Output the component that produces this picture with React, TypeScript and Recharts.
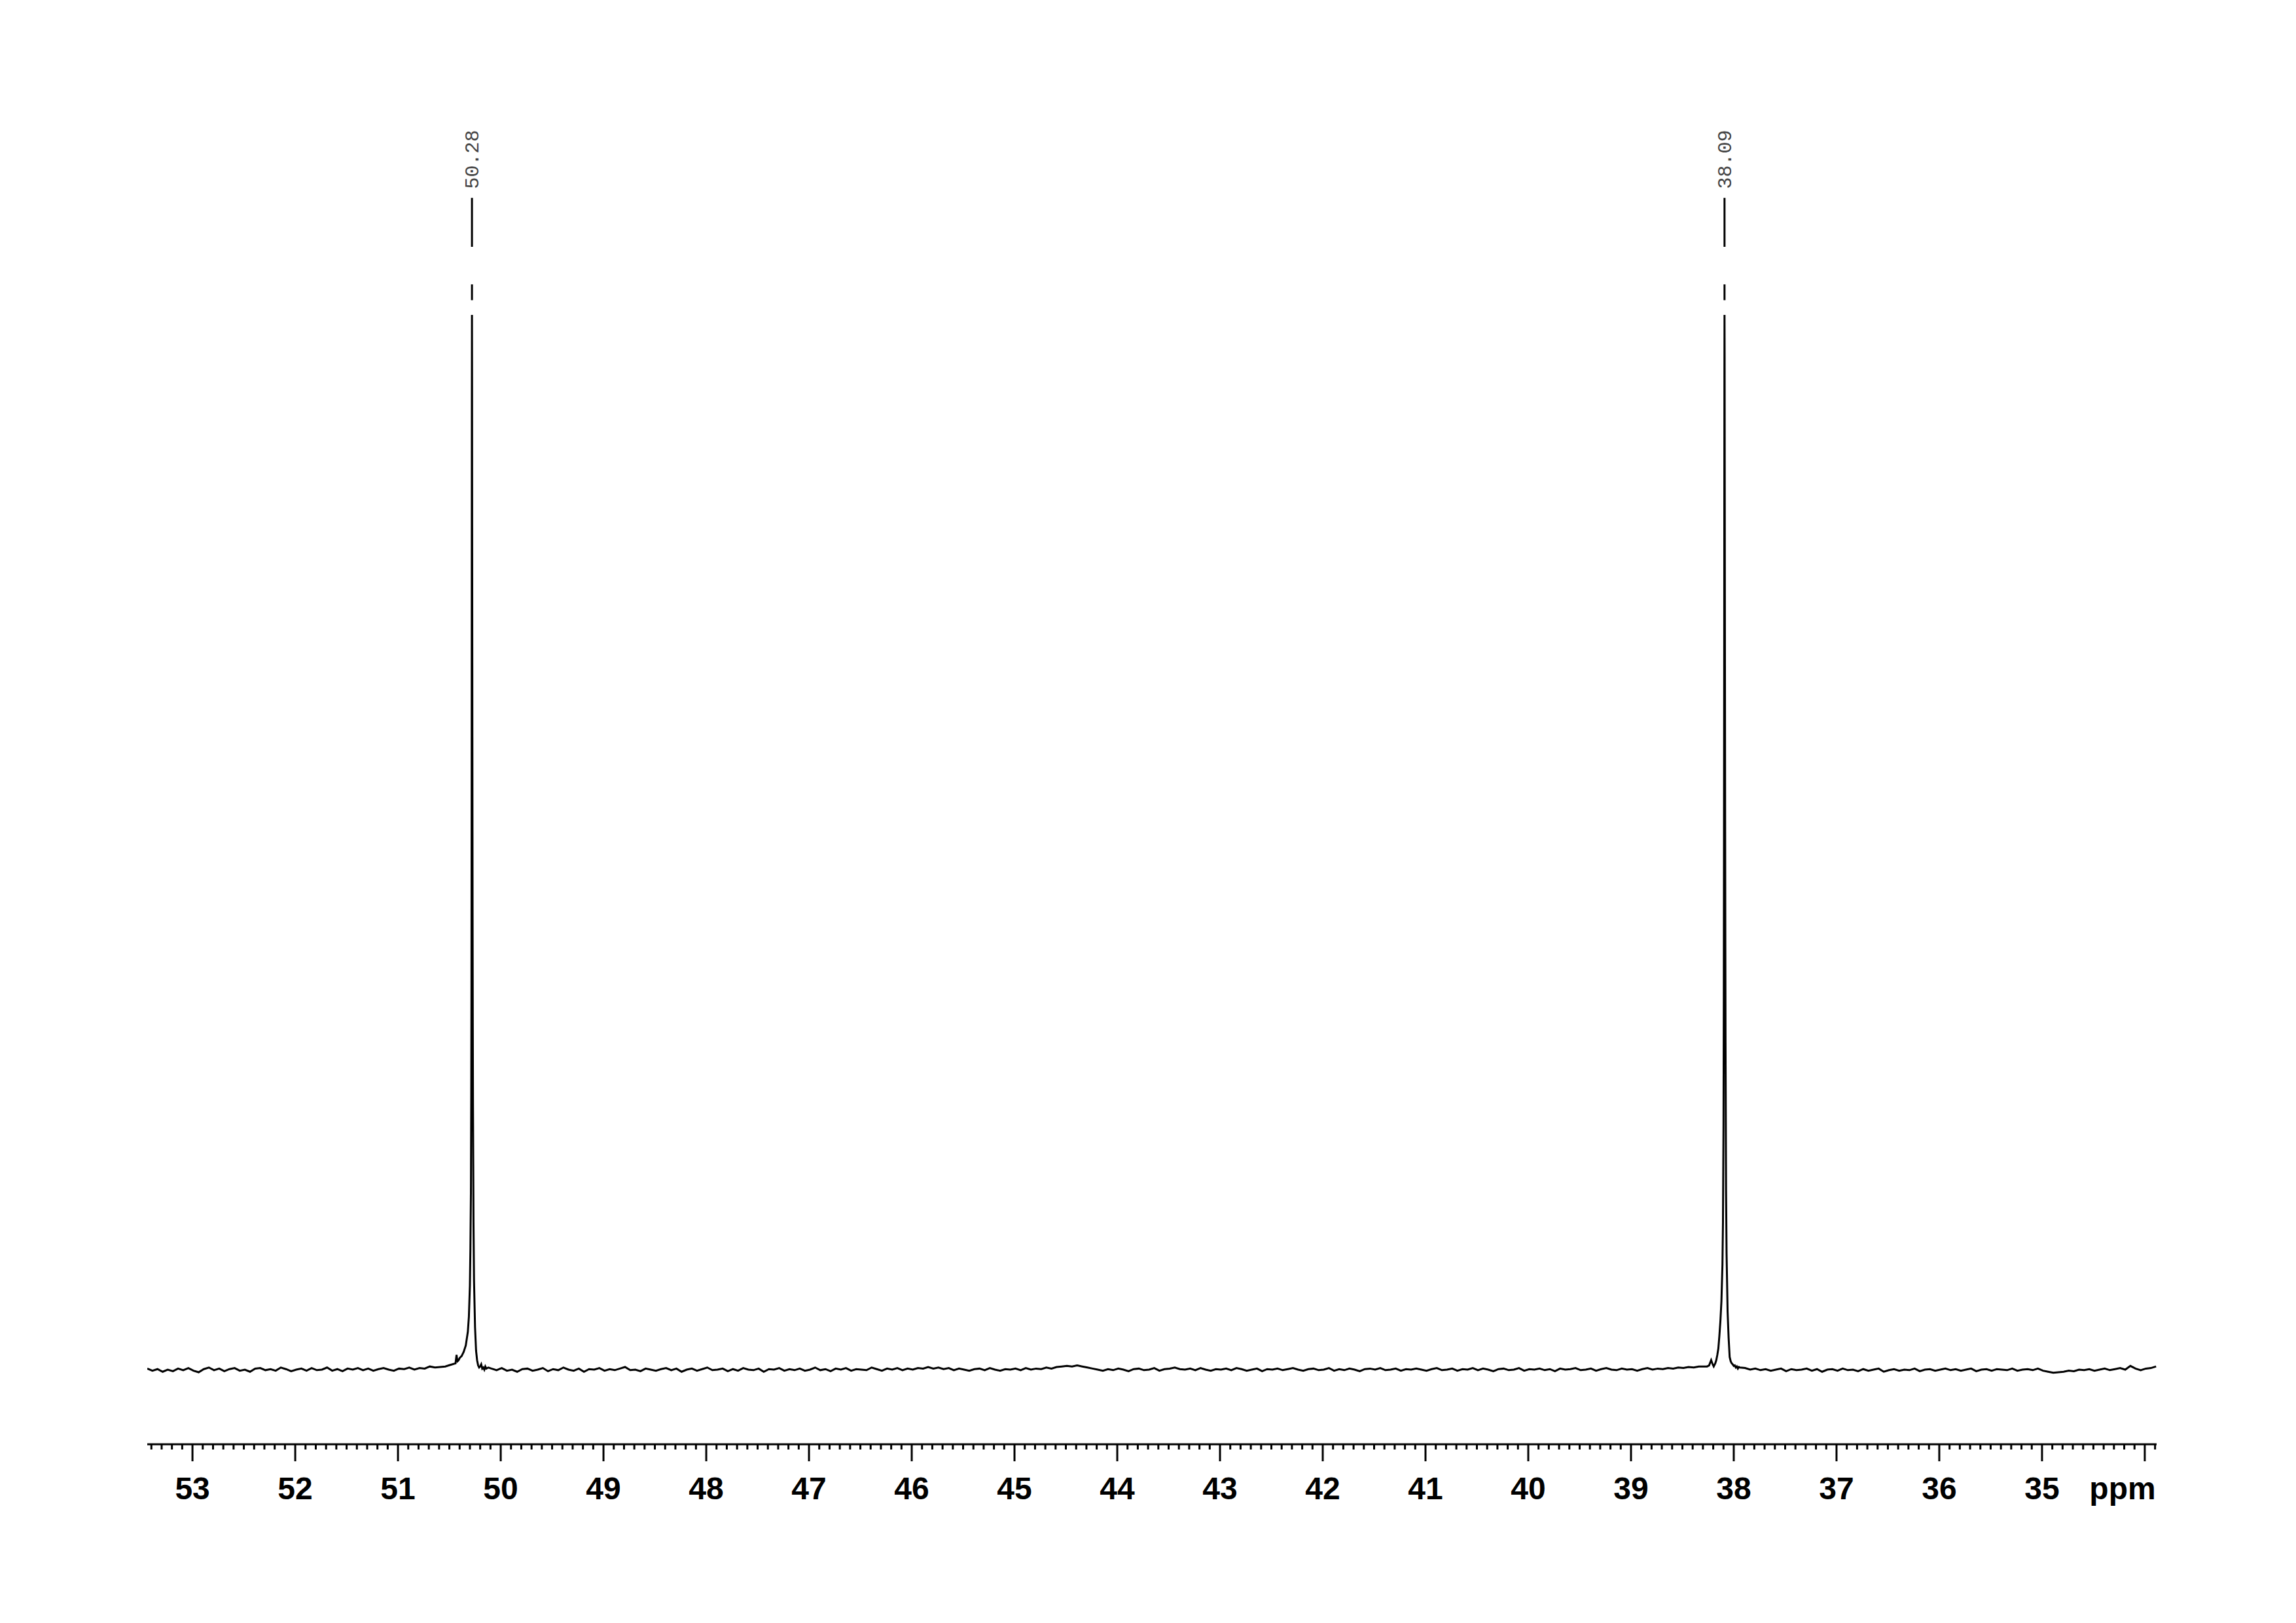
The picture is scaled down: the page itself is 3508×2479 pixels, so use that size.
import { LineChart, Line, XAxis, YAxis, ReferenceLine, ReferenceDot } from "recharts";

// baseline samples, 0.05 ppm apart (peak height = 100)
const baseStep = 0.05;
const leftStart = 53.44;
const baseLeft = [
  0.1, -0.1, 0.05, -0.2, 0.0, -0.15, 0.1, -0.05, 0.15, -0.1, -0.25, 0.05, 0.2, -0.05, 0.1, -0.15, 0.05, 0.15, -0.1, 0.0,
  -0.2, 0.1, 0.15, -0.05, 0.05, -0.1, 0.2, 0.05, -0.15, 0.0, 0.1, -0.1, 0.15, -0.05, 0.0, 0.2, -0.1, 0.05, -0.15, 0.1,
  0.0, 0.15, -0.05, 0.1, -0.1, 0.05, 0.15, 0.0, -0.1, 0.1, 0.05, 0.2, 0.0, 0.15, 0.1, 0.3, 0.2, 0.25, 0.3, 0.45,
];
const midStart = 50.09;
const baseMid = [
  0.1, -0.05, 0.15, -0.1, 0.0, -0.2, 0.05, 0.1, -0.1, 0.0, 0.15, -0.15, 0.05, -0.05, 0.2, 0.0, -0.1, 0.1, -0.2, 0.05,
  0.0, 0.15, -0.1, 0.05, -0.05, 0.1, 0.25, -0.05, 0.0, -0.15, 0.1, 0.0, -0.1, 0.05, 0.15, -0.05, 0.1, -0.2, 0.0, 0.1,
  -0.1, 0.05, 0.2, -0.05, 0.0, 0.1, -0.15, 0.05, -0.1, 0.15, 0.0, -0.05, 0.1, -0.2, 0.05, 0.0, 0.15, -0.1, 0.05, -0.05,
  0.1, -0.1, 0.0, 0.2, -0.05, 0.05, -0.15, 0.1, 0.0, 0.15, -0.1, 0.05, 0.0, -0.05, 0.2, 0.05, -0.1, 0.1, 0.0, 0.15,
  -0.05, 0.1, 0.0, 0.15, 0.1, 0.25, 0.1, 0.2, 0.05, 0.15, -0.05, 0.1, 0.0, -0.1, 0.05, 0.1, -0.05, 0.15, 0.0, -0.1,
  0.05, 0.0, 0.1, -0.05, 0.15, 0.0, 0.1, 0.05, 0.2, 0.1, 0.25, 0.3, 0.35, 0.3, 0.4, 0.3, 0.2, 0.1, 0.0, -0.1,
  0.05, -0.05, 0.1, 0.0, -0.15, 0.05, 0.1, -0.05, 0.0, 0.15, -0.1, 0.05, 0.1, 0.2, 0.05, 0.0, 0.1, -0.05, 0.15, 0.0,
  -0.1, 0.05, 0.0, 0.1, -0.05, 0.15, 0.05, -0.1, 0.0, 0.1, -0.15, 0.05, 0.0, 0.1, -0.05, 0.05, 0.15, 0.0, -0.1, 0.05,
  0.1, -0.05, 0.0, 0.15, -0.1, 0.05, -0.05, 0.1, 0.0, -0.15, 0.05, 0.1, 0.0, 0.15, -0.05, 0.0, 0.1, -0.1, 0.05, 0.0,
  0.1, 0.0, -0.1, 0.05, 0.15, -0.05, 0.0, 0.1, -0.1, 0.05, 0.0, 0.15, -0.05, 0.1, 0.0, -0.15, 0.05, 0.1, -0.05, 0.0,
  0.15, -0.1, 0.05, 0.0, 0.1, -0.05, 0.05, -0.15, 0.1, 0.0, 0.05, 0.15, -0.05, 0.0, 0.1, -0.1, 0.05, 0.15, 0.0, -0.05,
  0.1, 0.0, 0.05, -0.1, 0.05, 0.15, 0.0, 0.1, 0.05, 0.15, 0.1, 0.2, 0.15, 0.25, 0.2, 0.3, 0.3,
];
const rightStart = 37.89;
const baseRight = [
  0.15, 0.0, 0.1, -0.05, 0.05, -0.1, 0.0, 0.1, -0.15, 0.05, -0.05, 0.0, 0.1, -0.1, 0.05, -0.2, 0.0, 0.05, -0.1, 0.1,
  -0.05, 0.0, -0.15, 0.05, -0.1, 0.0, 0.1, -0.2, -0.05, 0.05, -0.1, 0.0, -0.05, 0.1, -0.15, 0.0, 0.05, -0.1, 0.0, 0.1,
  -0.05, 0.05, -0.1, 0.0, 0.1, -0.15, 0.0, 0.05, -0.1, 0.05, 0.0, -0.05, 0.1, -0.1, 0.0, 0.05, -0.05, 0.1, -0.1, -0.2,
  -0.3, -0.25, -0.2, -0.1, -0.15, 0.0, -0.05, 0.05, -0.1, 0.0, 0.1, -0.05, 0.05, 0.15, 0.0, 0.35, 0.1, -0.05, 0.1, 0.15,
  0.3,
];

// dense points across the two signals: [ppm, intensity]
const peak50: [number, number][] = [
  [50.44, 0.6], [50.43, 1.4], [50.425, 1.0], [50.42, 0.8], [50.41, 0.9], [50.4, 1.1], [50.38, 1.3],
  [50.36, 1.7], [50.34, 2.3], [50.32, 3.6], [50.31, 5.0], [50.3, 8.0], [50.295, 11.5], [50.29, 17],
  [50.287, 26], [50.285, 36], [50.283, 56], [50.282, 74], [50.281, 92], [50.28, 100], [50.279, 94],
  [50.278, 80], [50.276, 60], [50.274, 44], [50.272, 33], [50.27, 25], [50.265, 14], [50.26, 8.5],
  [50.25, 4.0], [50.24, 1.8], [50.23, 0.9], [50.22, 0.4], [50.21, 0.2], [50.2, 0.3], [50.19, 0.5],
  [50.18, 0.1], [50.17, 0.2], [50.16, 0.0], [50.15, 0.3], [50.14, 0.1], [50.12, 0.2],
];
const peak38: [number, number][] = [
  [38.26, 0.3], [38.24, 0.4], [38.22, 0.9], [38.205, 0.5], [38.195, 0.3], [38.18, 0.6], [38.17, 0.9],
  [38.16, 1.4], [38.15, 2.0], [38.14, 3.2], [38.13, 4.6], [38.12, 6.5], [38.11, 10], [38.105, 14],
  [38.1, 23], [38.097, 35], [38.095, 50], [38.093, 68], [38.092, 82], [38.091, 94], [38.09, 100],
  [38.089, 96], [38.088, 86], [38.086, 68], [38.084, 52], [38.082, 40], [38.08, 31], [38.075, 17],
  [38.07, 11], [38.06, 5.5], [38.05, 3.0], [38.04, 1.2], [38.03, 0.8], [38.02, 0.6], [38.01, 0.5],
  [38.0, 0.35], [37.99, 0.4], [37.98, 0.2], [37.97, 0.3], [37.96, 0.1], [37.95, 0.25], [37.94, 0.2],
];

const peakPositions = [50.28, 38.09];
const peakLabels = ["50.28", "38.09"];
const majorLabels = [53, 52, 51, 50, 49, 48, 47, 46, 45, 44, 43, 42, 41, 40, 39, 38, 37, 36, 35];
const unitLabel = "ppm";

const xDomain: [number, number] = [33.885, 53.44];
const yDomain: [number, number] = [-7.076, 120.55];

const data: { ppm: number; v: number }[] = [];
baseLeft.forEach((v, i) => data.push({ ppm: +(leftStart - i * baseStep).toFixed(3), v }));
peak50.forEach(([p, v]) => data.push({ ppm: p, v }));
baseMid.forEach((v, i) => data.push({ ppm: +(midStart - i * baseStep).toFixed(3), v }));
peak38.forEach(([p, v]) => data.push({ ppm: p, v }));
baseRight.forEach((v, i) => data.push({ ppm: +(rightStart - i * baseStep).toFixed(3), v }));

// every 0.1 ppm gets a tick, integers get long ones
const ticks: number[] = [];
for (let t = 339; t <= 534; t++) ticks.push(t / 10);

const AxisTick = ({ x, y, payload }: any) => {
  const val = payload.value as number;
  const major = Math.abs(val - Math.round(val)) < 1e-6;
  const showNum = major && majorLabels.includes(Math.round(val));
  const isEnd = Math.abs(val - 33.9) < 1e-6;
  return (
    <g>
      <line x1={x} x2={x} y1={y} y2={y + (major ? 26 : 8)} stroke="#000" strokeWidth={3} />
      {showNum && (
        <text
          x={x}
          y={y + 84}
          textAnchor="middle"
          fontFamily="'Liberation Sans', Arial, sans-serif"
          fontWeight="bold"
          fontSize={48}
          fill="#000"
        >
          {Math.round(val)}
        </text>
      )}
      {isEnd && (
        <text
          x={x + 1}
          y={y + 84}
          textAnchor="end"
          fontFamily="'Liberation Sans', Arial, sans-serif"
          fontWeight="bold"
          fontSize={48}
          fill="#000"
        >
          {unitLabel}
        </text>
      )}
    </g>
  );
};

const PeakText = (label: string) => (props: any) => (
  <text
    x={props.cx + 10}
    y={props.cy}
    transform={`rotate(-90, ${props.cx + 10}, ${props.cy})`}
    textAnchor="start"
    fontFamily="'Liberation Mono', 'DejaVu Sans Mono', monospace"
    fontSize={30}
    fill="#444"
  >
    {label}
  </text>
);

export default function App() {
  return (
    <div style={{ position: "absolute", left: 0, top: 0, background: "#fff" }}>
      <LineChart
        width={3508}
        height={2479}
        data={data}
        margin={{ top: 150, right: 213, bottom: 123, left: 225 }}
      >
        <XAxis
          dataKey="ppm"
          type="number"
          domain={xDomain}
          reversed
          allowDataOverflow
          ticks={ticks}
          interval={0}
          tickLine={false}
          tickSize={0}
          tickMargin={0}
          height={150}
          axisLine={{ stroke: "#000", strokeWidth: 3 }}
          tick={<AxisTick />}
        />
        <YAxis hide type="number" domain={yDomain} allowDataOverflow />

        {peakPositions.map((p, i) => (
          <ReferenceLine
            key={"s" + i}
            segment={[{ x: p, y: 111.1 }, { x: p, y: 106.46 }]}
            stroke="#000"
            strokeWidth={3}
            ifOverflow="visible"
          />
        ))}
        {peakPositions.map((p, i) => (
          <ReferenceLine
            key={"d" + i}
            segment={[{ x: p, y: 102.9 }, { x: p, y: 101.4 }]}
            stroke="#000"
            strokeWidth={3}
            ifOverflow="visible"
          />
        ))}
        {peakPositions.map((p, i) => (
          <ReferenceDot
            key={"t" + i}
            x={p}
            y={111.95}
            r={1}
            ifOverflow="visible"
            shape={PeakText(peakLabels[i])}
          />
        ))}

        <Line
          type="linear"
          dataKey="v"
          stroke="#000"
          strokeWidth={3}
          dot={false}
          isAnimationActive={false}
        />
      </LineChart>
    </div>
  );
}
